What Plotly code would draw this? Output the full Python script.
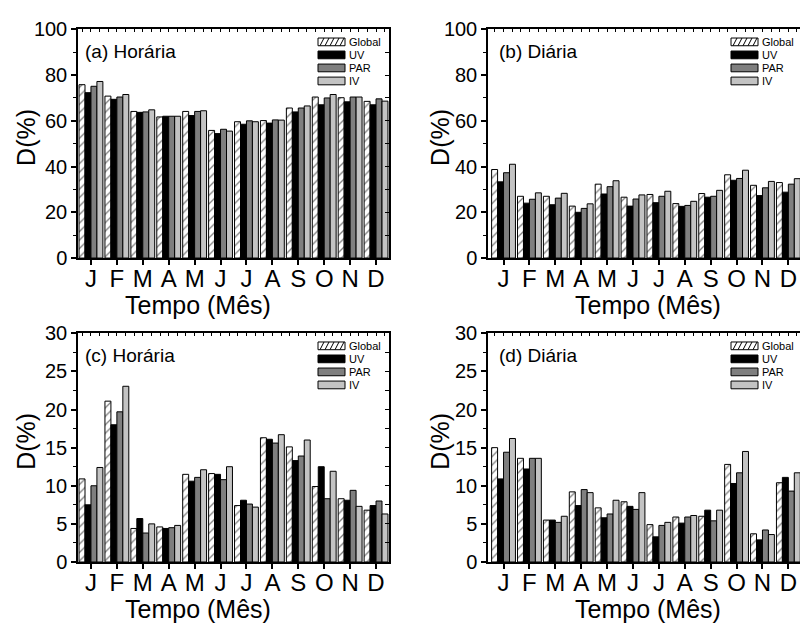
import plotly.graph_objects as go

# ---------------- data ----------------
months = ["Jan", "Fev", "Mar", "Abr", "Mai", "Jun", "Jul", "Ago", "Set", "Out", "Nov", "Dez"]
month_letters = ["J", "F", "M", "A", "M", "J", "J", "A", "S", "O", "N", "D"]
series_names = ["Global", "UV", "PAR", "IV"]

a_global = [75.8, 70.8, 64.1, 61.7, 64.1, 55.8, 59.6, 60.1, 65.6, 70.4, 70.1, 68.5]
a_uv     = [72.3, 69.4, 63.7, 62.0, 62.3, 54.4, 58.5, 59.0, 63.9, 67.0, 68.3, 67.0]
a_par    = [75.1, 70.4, 63.9, 62.0, 64.1, 56.3, 60.0, 60.4, 65.6, 70.0, 70.4, 69.6]
a_iv     = [77.2, 71.5, 64.8, 62.0, 64.4, 55.5, 59.6, 60.3, 66.5, 71.5, 70.4, 68.6]

b_global = [38.7, 27.0, 27.0, 22.7, 32.3, 26.6, 27.8, 23.8, 28.2, 36.4, 31.8, 33.0]
b_uv     = [33.3, 24.0, 23.3, 20.0, 28.0, 22.7, 24.2, 22.6, 26.6, 34.0, 27.3, 28.8]
b_par    = [37.3, 25.7, 26.2, 21.7, 31.2, 25.8, 27.0, 23.0, 27.0, 34.8, 30.7, 32.3]
b_iv     = [41.0, 28.5, 28.3, 23.7, 33.8, 27.6, 29.2, 24.8, 29.6, 38.4, 33.5, 34.7]

c_global = [10.9, 21.1, 4.4, 4.6, 11.5, 11.6, 7.4, 16.3, 15.1, 9.9, 8.3, 6.8]
c_uv     = [7.5, 18.0, 5.7, 4.4, 10.6, 11.5, 8.1, 16.1, 13.3, 12.5, 8.1, 7.4]
c_par    = [10.0, 19.7, 3.8, 4.5, 11.1, 10.8, 7.6, 15.6, 13.9, 8.3, 9.4, 8.0]
c_iv     = [12.4, 23.05, 5.0, 4.8, 12.1, 12.5, 7.2, 16.7, 16.0, 11.9, 7.3, 6.3]

d_global = [15.0, 13.6, 5.5, 9.2, 7.1, 7.9, 4.9, 5.9, 6.0, 12.8, 3.7, 10.4]
d_uv     = [10.9, 12.2, 5.5, 7.4, 5.8, 7.3, 3.3, 5.1, 6.8, 10.3, 2.9, 11.1]
d_par    = [14.4, 13.6, 5.2, 9.5, 6.3, 6.9, 4.8, 5.9, 5.4, 11.7, 4.2, 9.3]
d_iv     = [16.2, 13.6, 6.0, 9.1, 8.1, 9.1, 5.2, 6.1, 6.8, 14.5, 3.6, 11.7]

panel_labels = ["(a) Horária", "(b) Diária", "(c) Horária", "(d) Diária"]
panel_data = [
    [a_global, a_uv, a_par, a_iv],
    [b_global, b_uv, b_par, b_iv],
    [c_global, c_uv, c_par, c_iv],
    [d_global, d_uv, d_par, d_iv],
]
y_max = [100, 100, 30, 30]
y_dtick = [20, 20, 5, 5]

# ---------------- styling / layout ----------------
W, H = 800, 628
FONT = "Liberation Sans, Arial, sans-serif"
fill_colors = ["white", "black", "#7f7f7f", "#c3c3c3"]

# pixel boxes of the four plot areas: (left, right, top, bottom)
boxes = [
    (78, 389, 19, 256),
    (488, 800, 19, 256),
    (78, 389, 334, 571),
    (488, 800, 334, 571),
]
x_ranges = [[-0.5, 11.5], [-0.6, 11.45], [-0.5, 11.5], [-0.6, 11.45]]


def px(x):
    return x / W


def py(y):
    return 1 - y / H


fig = go.Figure()

for i in range(4):
    n = i + 1
    xa = "x" if n == 1 else f"x{n}"
    ya = "y" if n == 1 else f"y{n}"
    for s, name in enumerate(series_names):
        marker = dict(color=fill_colors[s], line=dict(color="black", width=1))
        if s == 0:
            marker["pattern"] = dict(shape="/", fgcolor="black", bgcolor="white",
                                     size=6, solidity=0.22, fillmode="overlay")
        fig.add_trace(go.Bar(
            x=months, y=panel_data[i][s], name=name, marker=marker,
            xaxis=xa, yaxis=ya, showlegend=False, offsetgroup=str(s),
        ))
    # dummy trace for the overlay (top/right) axes
    fig.add_trace(go.Scatter(x=[None], y=[None], xaxis=f"x{n+4}", yaxis=f"y{n+4}",
                             showlegend=False, hoverinfo="skip"))

layout = dict(
    width=W, height=H,
    margin=dict(l=0, r=0, t=0, b=0),
    paper_bgcolor="white", plot_bgcolor="white",
    barmode="group", bargap=0.08, bargroupgap=0,
    font=dict(family=FONT, color="black"),
    showlegend=False,
)

annotations = []
shapes = []

for i in range(4):
    n = i + 1
    L, R, T, B = boxes[i]
    xdom = [px(L), px(R)]
    ydom = [py(B), py(T)]
    ysuf = "" if n == 1 else str(n)
    xsuf = "" if n == 1 else str(n)
    right_panel = i in (1, 3)

    layout[f"xaxis{xsuf}"] = dict(
        domain=xdom, anchor=f"y{ysuf}", type="category",
        categoryorder="array", categoryarray=months,
        range=x_ranges[i], tickvals=months, ticktext=month_letters,
        ticks="outside", ticklen=5, tickwidth=1.5, tickcolor="black",
        ticklabelstandoff=-7,
        showline=True, linecolor="black", linewidth=1.5,
        showgrid=False, zeroline=False,
        tickfont=dict(size=24, family=FONT), fixedrange=True,
    )
    layout[f"yaxis{ysuf}"] = dict(
        domain=ydom, anchor=f"x{xsuf}", range=[0, y_max[i]],
        dtick=y_dtick[i], tick0=0,
        ticks="outside", ticklen=5, tickwidth=1.5, tickcolor="black",
        minor=dict(dtick=y_dtick[i] / 2, ticks="outside", ticklen=3,
                   tickwidth=1.2, tickcolor="black", showgrid=False),
        showline=True, linecolor="black", linewidth=1.5,
        showgrid=False, zeroline=False,
        tickfont=dict(size=20, family=FONT), fixedrange=True,
    )
    # top overlay axis with small inward ticks
    layout[f"xaxis{n+4}"] = dict(
        overlaying=f"x{xsuf}", side="top", anchor=f"y{ysuf}",
        type="linear", range=x_ranges[i], tick0=0, dtick=1 / 3,
        ticks="inside", ticklen=3, tickwidth=1, tickcolor="black",
        showticklabels=False, showline=True, linecolor="black", linewidth=1.5,
        showgrid=False, zeroline=False, fixedrange=True,
    )
    # right overlay axis with inward ticks
    layout[f"yaxis{n+4}"] = dict(
        overlaying=f"y{ysuf}", side="right", anchor=f"x{xsuf}",
        range=[0, y_max[i]], tick0=0, dtick=y_dtick[i] / 2,
        ticks="" if right_panel else "inside", ticklen=4, tickwidth=1, tickcolor="black",
        showticklabels=False, showline=not right_panel, linecolor="black", linewidth=1.5,
        showgrid=False, zeroline=False, fixedrange=True,
    )

    # panel label
    lab_x = L + (9 if right_panel else 5)
    annotations.append(dict(
        text=panel_labels[i], x=px(lab_x), y=py(T + 23), xref="paper", yref="paper",
        xanchor="left", yanchor="middle", showarrow=False,
        font=dict(size=19, family=FONT),
    ))
    # y title
    annotations.append(dict(
        text="D(%)", x=px(L - (48 if right_panel else 52)), y=py((T + B) / 2 - 6),
        xref="paper", yref="paper", textangle=-90,
        xanchor="center", yanchor="middle", showarrow=False,
        font=dict(size=25, family=FONT),
    ))
    # x title
    xt_center = 648 if right_panel else 198
    annotations.append(dict(
        text="Tempo (Mês)", x=px(xt_center), y=py(B + 49), xref="paper", yref="paper",
        xanchor="center", yanchor="middle", showarrow=False,
        font=dict(size=25, family=FONT),
    ))

    # legend (keys drawn as shapes, labels as text)
    key_l = L + (243 if right_panel else 240)
    key_w, key_h = 27, 8
    for s, name in enumerate(series_names):
        cy = T + 13 + s * 13.5
        shapes.append(dict(
            type="rect", xref="paper", yref="paper",
            x0=px(key_l), x1=px(key_l + key_w), y0=py(cy + key_h / 2), y1=py(cy - key_h / 2),
            line=dict(color="black", width=1), fillcolor=fill_colors[s], layer="above",
        ))
        if s == 0:
            k = 2
            while k + 4 <= key_w - 1:
                shapes.append(dict(
                    type="line", xref="paper", yref="paper",
                    x0=px(key_l + k), y0=py(cy + key_h / 2),
                    x1=px(key_l + k + 4), y1=py(cy - key_h / 2),
                    line=dict(color="black", width=1), layer="above",
                ))
                k += 5
        annotations.append(dict(
            text=name, x=px(key_l + key_w + 2), y=py(cy), xref="paper", yref="paper",
            xanchor="left", yanchor="middle", showarrow=False,
            font=dict(size=11, family=FONT),
        ))

layout["annotations"] = annotations
layout["shapes"] = shapes
fig.update_layout(**layout)

fig.write_html("out.html")
